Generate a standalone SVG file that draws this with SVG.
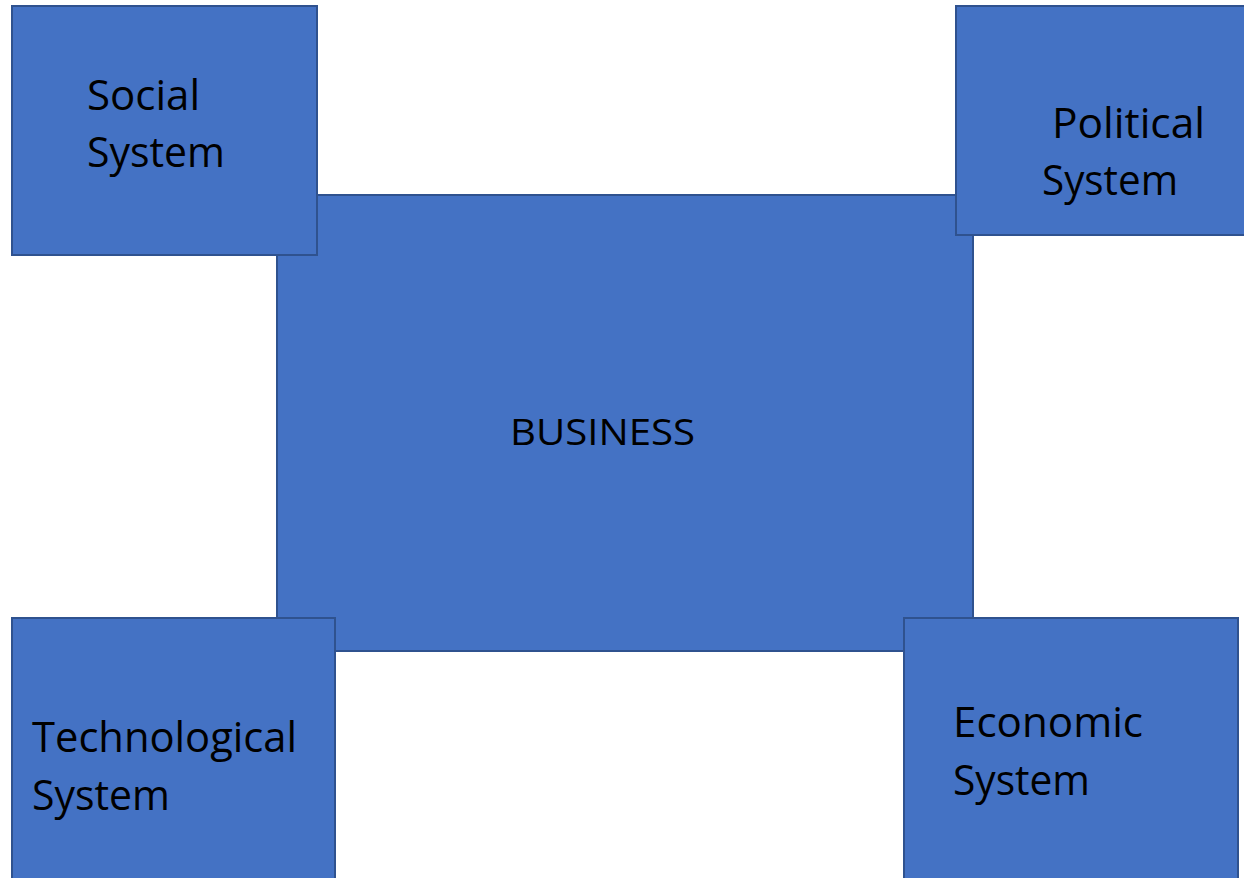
<svg xmlns="http://www.w3.org/2000/svg" width="1244" height="878" viewBox="0 0 1244 878">
<style>
.box{fill:#4472C4;stroke:#2F528F;stroke-width:2}
.lbl{font-family:"Open Sans","Noto Sans",sans-serif;font-size:42px;fill:#000}
.big{font-family:"Open Sans","Noto Sans",sans-serif;font-size:37px;fill:#000}
</style>
<rect width="1244" height="878" fill="#fff"/>
<g id="connectors"></g>
<g id="business">
<rect class="box" x="277" y="195" width="696" height="456"/>
<text class="big" x="510" y="445" textLength="185" lengthAdjust="spacingAndGlyphs">BUSINESS</text>
</g>
<g id="social">
<rect class="box" x="12" y="6" width="305" height="249"/>
<text class="lbl" x="87" y="110" textLength="113" lengthAdjust="spacingAndGlyphs">Social</text>
<text class="lbl" x="87" y="167" textLength="138" lengthAdjust="spacingAndGlyphs">System</text>
</g>
<g id="political">
<rect class="box" x="956" y="6" width="296" height="229"/>
<text class="lbl" x="1052" y="138" textLength="153" lengthAdjust="spacingAndGlyphs">Political</text>
<text class="lbl" x="1042" y="195" textLength="136" lengthAdjust="spacingAndGlyphs">System</text>
</g>
<g id="technological">
<rect class="box" x="12" y="618" width="323" height="270"/>
<text class="lbl" x="32" y="752" textLength="265" lengthAdjust="spacingAndGlyphs">Technological</text>
<text class="lbl" x="32" y="810" textLength="138" lengthAdjust="spacingAndGlyphs">System</text>
</g>
<g id="economic">
<rect class="box" x="904" y="618" width="334" height="270"/>
<text class="lbl" x="953" y="737" textLength="190" lengthAdjust="spacingAndGlyphs">Economic</text>
<text class="lbl" x="953" y="795" textLength="137" lengthAdjust="spacingAndGlyphs">System</text>
</g>
</svg>
